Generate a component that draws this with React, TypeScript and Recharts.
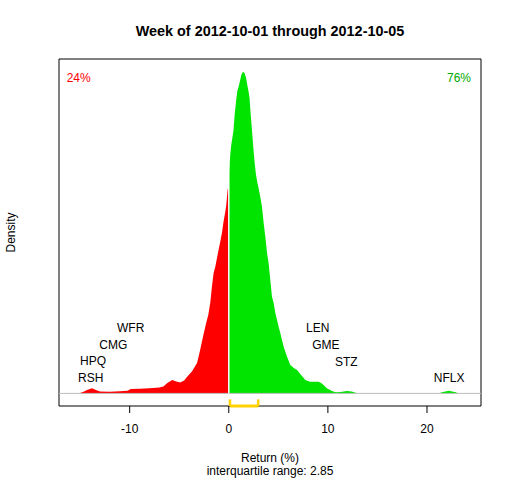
import {
  ComposedChart,
  Area,
  XAxis,
  YAxis,
  ReferenceLine,
  ReferenceArea,
  ReferenceDot,
} from "recharts";

// density of weekly returns, split at zero
const redX = [
  -15.0, -14.6, -14.3, -13.8, -13.4, -13.0, -12.0, -11.0, -10.2, -9.9, -9.0, -8.0, -7.0, -6.6,
  -6.2, -5.7, -5.3, -4.9, -4.5, -4.2, -3.7, -3.2, -2.9, -2.6, -2.3, -2.07, -1.87, -1.7, -1.53,
  -1.36, -1.19, -1.03, -0.86, -0.69, -0.53, -0.35, -0.25, -0.12, -0.05,
];
const redDensity = [
  0.0003, 0.0012, 0.0022, 0.0033, 0.0022, 0.0012, 0.0011, 0.0014, 0.0017, 0.0028, 0.0031,
  0.0034, 0.0038, 0.0045, 0.0068, 0.0088, 0.0078, 0.0072, 0.0085, 0.0109, 0.0145, 0.0199,
  0.028, 0.0371, 0.0455, 0.0513, 0.0591, 0.0698, 0.0787, 0.0829, 0.0886, 0.0938, 0.0992,
  0.1049, 0.1123, 0.1188, 0.1232, 0.133, 0.1345,
];
const greenX = [
  0.05, 0.15, 0.25, 0.38, 0.48, 0.59, 0.73, 0.86, 0.99, 1.13, 1.26, 1.43, 1.6, 1.74, 1.87, 2.0,
  2.1, 2.2, 2.34, 2.47, 2.6, 2.75, 2.9, 3.0, 3.18, 3.35, 3.52, 3.69, 3.86, 4.02, 4.19, 4.36,
  4.53, 4.7, 4.87, 5.03, 5.2, 5.37, 5.54, 5.88, 6.21, 6.6, 6.89, 7.3, 7.73, 8.2, 8.6, 9.07,
  9.4, 9.9, 10.4, 10.8, 11.3, 11.9, 12.4, 12.8, 13.2, 21.2, 21.5, 22.2, 22.9, 23.2, 23.87,
];
const greenDensity = [
  0.145, 0.156, 0.1625, 0.1679, 0.1723, 0.1821, 0.1908, 0.1978, 0.2006, 0.2043, 0.2082, 0.2104,
  0.2093, 0.2065, 0.2017, 0.1973, 0.193, 0.1834, 0.1723, 0.1613, 0.1515, 0.1428, 0.1375,
  0.1345, 0.1286, 0.1221, 0.1114, 0.1025, 0.0918, 0.0853, 0.0742, 0.0632, 0.0591, 0.0526,
  0.048, 0.0436, 0.0395, 0.0349, 0.0305, 0.024, 0.0186, 0.0165, 0.0153, 0.012, 0.0088,
  0.0077, 0.0077, 0.0076, 0.0065, 0.0033, 0.0016, 0.0008, 0.0009, 0.0016, 0.0012, 0.0004, 0,
  0, 0.0008, 0.0018, 0.0008, 0, 0,
];

// tickers in the tails
const tickers = ["RSH", "HPQ", "CMG", "WFR", "LEN", "GME", "STZ", "NFLX"];
const tickerX = [-13.93, -13.7, -11.65, -9.9, 8.97, 9.79, 11.85, 22.24];
const tickerY = [0.0103, 0.0214, 0.0321, 0.0432, 0.0432, 0.0317, 0.0207, 0.0105];

const xTicks = [-10, 0, 10, 20];
const quartiles = [0.12, 2.97];
const shares = ["24%", "76%"];

const X_DOMAIN: [number, number] = [-17.13, 25.45];
const Y_DOMAIN: [number, number] = [-0.00824, 0.2187];

const FONT = "'Liberation Sans', Arial, sans-serif";
const RED = "#ff0000";
const GREEN = "#00e400";

const data = [
  ...redX.map((x, i) => ({ x, red: redDensity[i], green: null as number | null })),
  ...greenX.map((x, i) => ({ x, red: null as number | null, green: greenDensity[i] })),
];

const labelShape =
  (text: string, anchor: "start" | "middle" | "end", color: string) => (p: any) =>
    (
      <text
        x={p.cx}
        y={p.cy}
        dy="0.35em"
        textAnchor={anchor}
        fontSize={12}
        fontFamily={FONT}
        fill={color}
      >
        {text}
      </text>
    );

export default function App() {
  return (
    <div style={{ position: "absolute", left: 0, top: 0, width: 512, height: 480, background: "#fff" }}>
      <ComposedChart
        width={512}
        height={480}
        data={data}
        margin={{ top: 59, right: 31, bottom: 34, left: 59 }}
      >
        <XAxis
          dataKey="x"
          type="number"
          domain={X_DOMAIN}
          allowDataOverflow
          ticks={xTicks}
          height={40}
          axisLine={false}
          tickSize={7}
          tickMargin={11}
          tickLine={{ stroke: "#000" }}
          tick={{ fill: "#000", fontSize: 12, fontFamily: FONT }}
        />
        <YAxis type="number" domain={Y_DOMAIN} allowDataOverflow hide width={0} />
        <ReferenceLine y={0} stroke="#bebebe" strokeWidth={1} />
        <Area
          dataKey="red"
          type="linear"
          baseValue={0}
          stroke="none"
          fill={RED}
          fillOpacity={1}
          isAnimationActive={false}
          dot={false}
          activeDot={false}
        />
        <Area
          dataKey="green"
          type="linear"
          baseValue={0}
          stroke="none"
          fill={GREEN}
          fillOpacity={1}
          isAnimationActive={false}
          dot={false}
          activeDot={false}
        />
        <ReferenceLine
          segment={[
            { x: 0, y: 0 },
            { x: 0, y: 0.15 },
          ]}
          stroke="#fff"
          strokeWidth={1.2}
        />
        <ReferenceLine
          segment={[
            { x: quartiles[0], y: Y_DOMAIN[0] },
            { x: quartiles[1], y: Y_DOMAIN[0] },
          ]}
          stroke="#ffd200"
          strokeWidth={3}
          ifOverflow="visible"
        />
        {quartiles.map((q) => (
          <ReferenceLine
            key={q}
            segment={[
              { x: q, y: Y_DOMAIN[0] },
              { x: q, y: -0.0039 },
            ]}
            stroke="#ffd200"
            strokeWidth={2.5}
            ifOverflow="visible"
          />
        ))}
        <ReferenceArea
          x1={X_DOMAIN[0]}
          x2={X_DOMAIN[1]}
          y1={Y_DOMAIN[0]}
          y2={Y_DOMAIN[1]}
          fill="none"
          stroke="#000"
          strokeWidth={1}
          ifOverflow="visible"
        />
        {tickers.map((t, i) => (
          <ReferenceDot
            key={t}
            x={tickerX[i]}
            y={tickerY[i]}
            r={0}
            ifOverflow="visible"
            shape={labelShape(t, "middle", "#000")}
          />
        ))}
        <ReferenceDot
          x={-16.36}
          y={0.2065}
          r={0}
          ifOverflow="visible"
          shape={labelShape(shares[0], "start", RED)}
        />
        <ReferenceDot
          x={24.44}
          y={0.2065}
          r={0}
          ifOverflow="visible"
          shape={labelShape(shares[1], "end", "#00a800")}
        />
      </ComposedChart>
      <svg
        width={512}
        height={480}
        style={{ position: "absolute", left: 0, top: 0, pointerEvents: "none" }}
        fontFamily={FONT}
      >
        <text x={270} y={31} dy="0.35em" textAnchor="middle" fontSize={14.4} fontWeight="bold">
          Week of 2012-10-01 through 2012-10-05
        </text>
        <text x={270} y={457.5} dy="0.35em" textAnchor="middle" fontSize={12}>
          Return (%)
        </text>
        <text x={270} y={471} dy="0.35em" textAnchor="middle" fontSize={12}>
          interquartile range: 2.85
        </text>
        <text
          x={10.5}
          y={232.5}
          dy="0.35em"
          textAnchor="middle"
          fontSize={12}
          transform="rotate(-90 10.5 232.5)"
        >
          Density
        </text>
      </svg>
    </div>
  );
}
